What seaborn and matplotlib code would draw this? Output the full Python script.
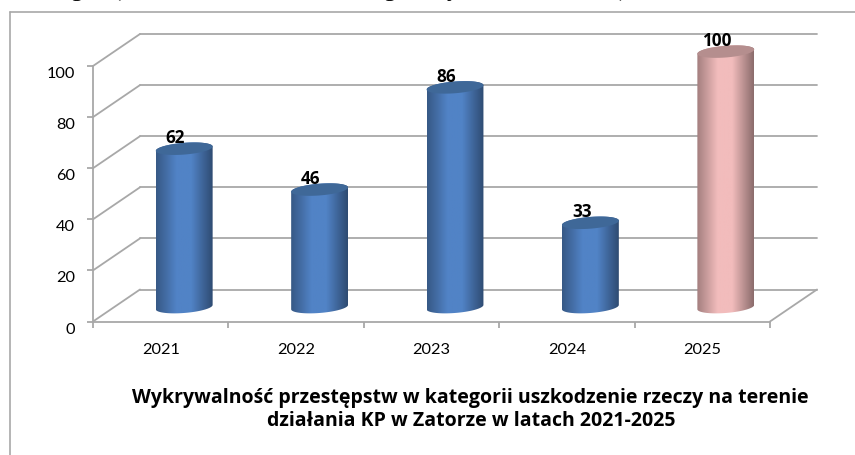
import numpy as np
import seaborn as sns
from matplotlib import pyplot as plt
from matplotlib.colors import LinearSegmentedColormap, to_rgb
from matplotlib.lines import Line2D
from matplotlib.patches import Polygon

years = ['2021', '2022', '2023', '2024', '2025']
values = [62, 46, 86, 33, 100]
bar_colors = ['#5183c6', '#5183c6', '#5183c6', '#5183c6', '#f2bcbc']
top_colors = ['#3f6898', '#3f6898', '#3f6898', '#3f6898', '#b58e8e']
yticks = [0, 20, 40, 60, 80, 100]
title = ('Wykrywalność przestępstw w kategorii uszkodzenie rzeczy na terenie\n'
         'działania KP w Zatorze w latach 2021-2025')

W, H = 855, 456
GREY = '#a8a8a8'

sns.set_theme(style='white')
plt.rcParams['font.family'] = ['Lato', 'DejaVu Sans']

fig = plt.figure(figsize=(W / 100, H / 100), dpi=100)
# the axes box is the front face of the fake 3d chart
ax = fig.add_axes([93 / W, 1 - 322.5 / H, 677 / W, 255.5 / H])

sns.barplot(x=years, y=values, hue=years, palette=bar_colors, legend=False,
            width=0.42, ax=ax)

# depth of the box in data units
dx = 47 / 135.4
dy = 32 / 2.555
bar_dx = dx / 2
bar_dy = dy * 0.45

# back wall and side wall lines
for v in yticks:
    ax.plot([-0.5 + dx, 4.5 + dx], [v + dy, v + dy], color=GREY, lw=1.3,
            clip_on=False, zorder=0.5)
    ax.plot([-0.5, -0.5 + dx], [v, v + dy], color=GREY, lw=1.3,
            clip_on=False, zorder=0.5)
ax.plot([4.5, 4.5 + dx], [0, dy], color=GREY, lw=1.3, clip_on=False, zorder=0.5)


def gradient_cmap(mid, dark_l, dark_r):
    return LinearSegmentedColormap.from_list(
        'cyl', [(0, dark_l), (0.36, mid), (0.62, mid), (1, dark_r)])


def darker(c, f):
    return tuple(np.array(to_rgb(c)) * f)


a_shear = 0.85
b_half = 2.3

bars = [c[0] for c in ax.containers]
for i, bar in enumerate(bars):
    a = bar.get_width() / 2
    cx = bar.get_x() + a + bar_dx
    top = values[i] + bar_dy
    bar.set_visible(False)

    t_low = np.linspace(np.pi, 2 * np.pi, 40)
    t_up = np.linspace(0, np.pi, 40)
    low = np.c_[cx + a * np.cos(t_low),
                bar_dy + b_half * np.sin(t_low) + a_shear * np.cos(t_low)]
    up = np.c_[cx + a * np.cos(t_up),
               top + b_half * np.sin(t_up) + a_shear * np.cos(t_up)]
    body = Polygon(np.r_[low, up], closed=True, fc='none', ec='none',
                   transform=ax.transData, clip_on=False)
    ax.add_patch(body)

    cmap = gradient_cmap(bar_colors[i], darker(bar_colors[i], 0.68),
                         darker(bar_colors[i], 0.58))
    img = ax.imshow(np.linspace(0, 1, 64).reshape(1, -1), cmap=cmap, aspect='auto',
                    extent=(cx - a, cx + a, bar_dy - 5, top + 5), zorder=2)
    img.set_clip_path(body)
    img.set_clip_box(fig.bbox)

    t_all = np.linspace(0, 2 * np.pi, 80)
    cap = np.c_[cx + a * np.cos(t_all),
                top + b_half * np.sin(t_all) + a_shear * np.cos(t_all)]
    ax.add_patch(Polygon(cap, closed=True, fc=top_colors[i], ec='none',
                         clip_on=False, zorder=3))

    ax.annotate(str(values[i]), xy=(cx, top), xytext=(-6.3, 8.4),
                textcoords='offset points', ha='center', va='center',
                fontsize=12.3, fontweight='bold', color='black', family='Open Sans',
                annotation_clip=False, zorder=5)

ax.set_xlim(-0.5, 4.5)
ax.set_ylim(0, 100)
ax.set_yticks(yticks)
ax.set_xticks(range(5))
ax.set_xticklabels(years)
ax.set_xticks(np.arange(-0.5, 5), minor=True)
ax.set_ylabel('')
ax.patch.set_alpha(0)
ax.set_xlabel(title, fontsize=14, fontweight='bold', color='black', x=0.558,
              family='Open Sans', labelpad=22, linespacing=1.2)

ax.tick_params(axis='x', which='major', length=0, pad=15, labelsize=11.8, labelcolor='black')
ax.tick_params(axis='x', which='minor', bottom=True, length=4, width=1.3, color=GREY)
ax.tick_params(axis='y', left=True, length=4, width=1.3, color=GREY, pad=9,
               labelsize=11.8, labelcolor='black')
for lab in ax.get_yticklabels():
    lab.set_verticalalignment('top')

for s in ['top', 'right']:
    ax.spines[s].set_visible(False)
for s in ['left', 'bottom']:
    ax.spines[s].set_color(GREY)
    ax.spines[s].set_linewidth(1.3)

# outer frame, runs off the right and bottom of the picture
fig.add_artist(Line2D([10 / W, 10 / W], [0, 1 - 13 / H], color=GREY, lw=1.2))
fig.add_artist(Line2D([10 / W, 1], [1 - 13 / H, 1 - 13 / H], color=GREY, lw=1.2))

# descenders of the cut off line of text above the chart
for txt, px in [('g', 77), ('(', 117), ('g', 390), ('y', 453), (')', 622)]:
    fig.text(px / W, 1 + 4 / H, txt, family='Liberation Serif', fontsize=17.5,
             ha='center', va='baseline', color='black')

fig.savefig('out.png', dpi=100)
